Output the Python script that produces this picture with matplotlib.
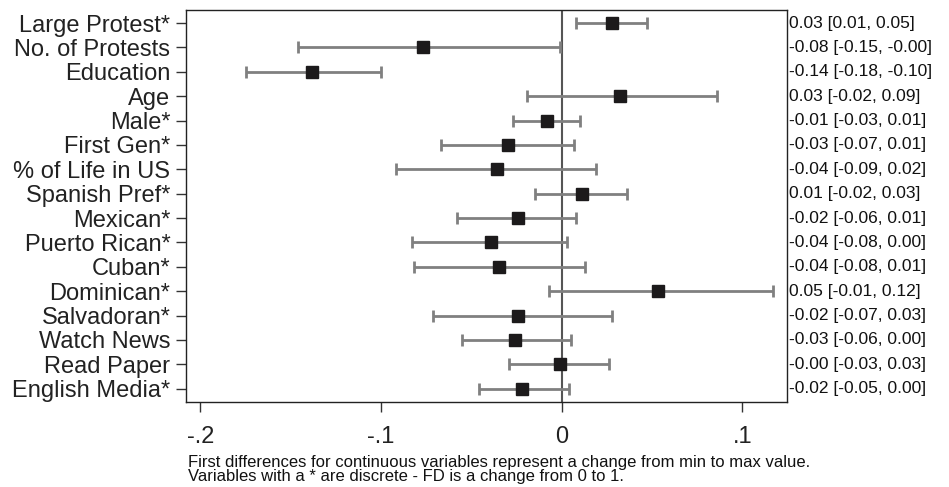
import matplotlib
matplotlib.use("Agg")
import matplotlib.pyplot as plt

plt.rcParams['font.family'] = ['Liberation Sans', 'DejaVu Sans']

# variables, top to bottom
variables = ['Large Protest*', 'No. of Protests', 'Education', 'Age', 'Male*',
             'First Gen*', '% of Life in US', 'Spanish Pref*', 'Mexican*',
             'Puerto Rican*', 'Cuban*', 'Dominican*', 'Salvadoran*',
             'Watch News', 'Read Paper', 'English Media*']

# first differences with lower / upper bounds
estimate = [0.028, -0.077, -0.138, 0.032, -0.008, -0.030, -0.036, 0.011,
            -0.024, -0.039, -0.035, 0.053, -0.024, -0.026, -0.001, -0.022]
lower = [0.008, -0.146, -0.175, -0.019, -0.027, -0.067, -0.092, -0.015,
         -0.058, -0.083, -0.082, -0.007, -0.071, -0.055, -0.029, -0.046]
upper = [0.047, -0.001, -0.100, 0.086, 0.010, 0.007, 0.019, 0.036,
         0.008, 0.003, 0.013, 0.117, 0.028, 0.005, 0.026, 0.004]

# printed labels on the right
value_labels = ['0.03 [0.01, 0.05]', '-0.08 [-0.15, -0.00]', '-0.14 [-0.18, -0.10]',
                '0.03 [-0.02, 0.09]', '-0.01 [-0.03, 0.01]', '-0.03 [-0.07, 0.01]',
                '-0.04 [-0.09, 0.02]', '0.01 [-0.02, 0.03]', '-0.02 [-0.06, 0.01]',
                '-0.04 [-0.08, 0.00]', '-0.04 [-0.08, 0.01]', '0.05 [-0.01, 0.12]',
                '-0.02 [-0.07, 0.03]', '-0.03 [-0.06, 0.00]', '-0.00 [-0.03, 0.03]',
                '-0.02 [-0.05, 0.00]']

x_ticks = [-0.2, -0.1, 0, 0.1]
x_tick_labels = ['-.2', '-.1', '0', '.1']

footnote_lines = ["First differences for continuous variables represent a change from min to max value.",
                  "Variables with a * are discrete - FD is a change from 0 to 1."]

fig = plt.figure(figsize=(9.49, 4.87), dpi=100)
ax = fig.add_axes([0.1957, 0.1745, 0.6333, 0.8055])

pos = list(range(1, len(variables) + 1))
err_lo = [e - l for e, l in zip(estimate, lower)]
err_hi = [u - e for e, u in zip(estimate, upper)]

ax.axvline(0, color='#555555', linewidth=1.5, zorder=1)
ax.errorbar(estimate, pos, xerr=[err_lo, err_hi], fmt='none', ecolor='#808080',
            elinewidth=2, capsize=4.2, capthick=2, zorder=2)
ax.plot(estimate, pos, 's', color='#1c1a1b', markersize=9, zorder=3, linestyle='none')

ax.set_xlim(-0.2081, 0.1245)
ax.set_ylim(16.545, 0.455)
ax.set_yticks(pos)
ax.set_yticklabels(variables, fontsize=17, color='#222222')
ax.set_xticks(x_ticks)
ax.set_xticklabels(x_tick_labels, fontsize=17, color='#222222')
ax.tick_params(axis='both', length=7, width=1, color='#333333')
ax.tick_params(axis='y', pad=4)
ax.tick_params(axis='x', pad=10)

for sp in ax.spines.values():
    sp.set_linewidth(1)
    sp.set_color('#222222')

for p, lab in zip(pos, value_labels):
    ax.text(1.004, p, lab, transform=ax.get_yaxis_transform(), ha='left', va='center',
            fontsize=12.5, color='#111111')

# footnote, two lines set on their baselines
fig.text(0.198, 1 - 467 / 487, footnote_lines[0], ha='left', va='baseline',
         fontsize=12, color='#111111')
fig.text(0.198, 1 - 481 / 487, footnote_lines[1], ha='left', va='baseline',
         fontsize=12, color='#111111')

fig.savefig('out.png', dpi=100)
